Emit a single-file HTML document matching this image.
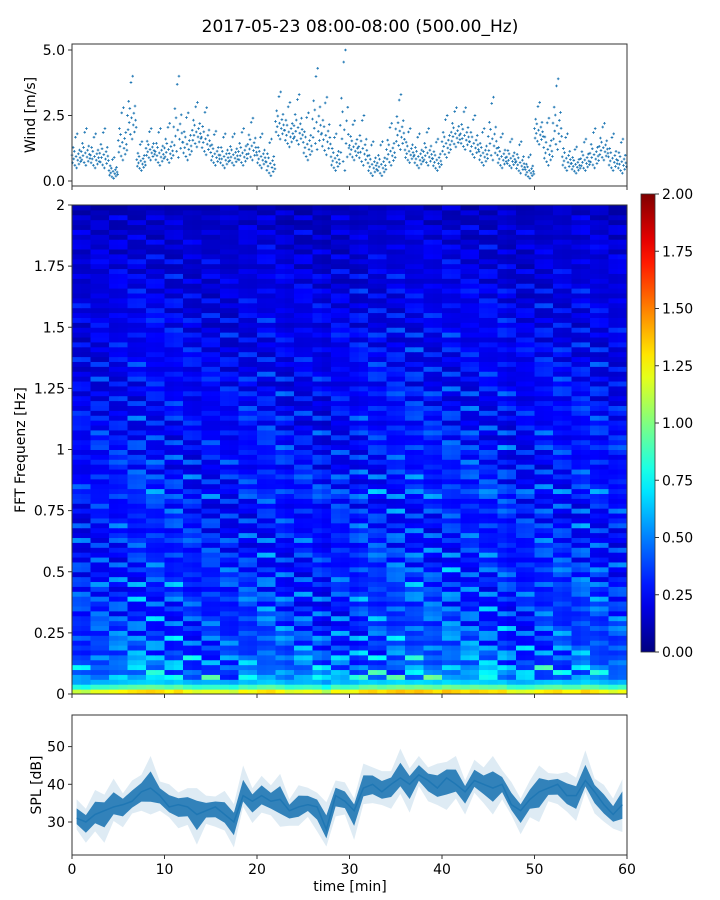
<!DOCTYPE html>
<html><head><meta charset="utf-8"><style>
body{margin:0;background:#fff;width:720px;height:900px;overflow:hidden}
svg{display:block;font-family:"DejaVu Sans","Liberation Sans",sans-serif}
</style></head><body>
<svg id="c" width="720" height="900" xmlns="http://www.w3.org/2000/svg">
<text x="360" y="32" text-anchor="middle" font-size="17" fill="#000">2017-05-23 08:00-08:00 (500.00_Hz)</text>
</svg>
<script>
const minutes = Array.from({length:60},(_,i)=>i);
const windLow = [0.5,0.6,0.5,0.5,0.1,0.8,1.6,0.4,0.8,0.6,0.7,0.9,0.8,1.3,1.0,0.6,0.5,0.6,0.6,0.8,0.5,0.2,1.6,1.3,1.4,0.8,1.2,1.0,0.4,0.4,0.8,0.6,0.2,0.2,0.6,1.2,0.7,0.5,0.6,0.4,0.9,1.3,1.2,0.9,0.6,0.8,0.5,0.5,0.3,0.1,1.4,0.6,1.2,0.4,0.3,0.4,0.5,0.8,0.4,0.3];
const windHigh = [1.8,2.0,1.8,2.0,0.9,2.8,4.0,1.5,2.0,2.0,2.2,4.0,2.6,3.0,2.8,1.9,1.8,1.8,2.0,2.4,1.8,1.6,3.4,3.0,3.3,2.6,4.3,3.2,1.8,5.0,2.3,2.5,1.5,1.5,2.2,3.3,2.0,1.8,2.0,1.6,2.5,2.8,2.8,2.5,2.0,3.2,1.8,1.6,1.5,1.0,3.0,2.4,3.9,1.8,1.3,1.6,2.0,2.2,1.8,1.6];
const splMean = [31,30,32,33,34,34.6,35.5,38,39,37,34,34.6,34,32,33,34,32,30,37,35.5,37,35.5,36,33,34,34.6,34,28,37,35.5,33,39,40,38,40,41.7,40,42.5,41,39,41.7,40,38,41,40,39,40,34.6,33,36,38,39,40,37,37,41,38,34.6,32,34.6];
const freqProfile = [1.2,0.85,0.6,0.55,0.48,0.5,0.42,0.46,0.38,0.42,0.36,0.4,0.35,0.38,0.33,0.37,0.32,0.36,0.31,0.37,0.34,0.3,0.38,0.32,0.3,0.35,0.31,0.29,0.33,0.3,0.28,0.33,0.3,0.27,0.32,0.29,0.26,0.31,0.27,0.28,0.33,0.35,0.3,0.27,0.32,0.28,0.25,0.3,0.27,0.26,0.31,0.27,0.24,0.29,0.26,0.23,0.28,0.25,0.27,0.24,0.22,0.27,0.25,0.21,0.26,0.24,0.22,0.25,0.23,0.21,0.24,0.22,0.2,0.24,0.22,0.19,0.23,0.21,0.19,0.22,0.2,0.18,0.21,0.19,0.17,0.2,0.18,0.16,0.19,0.17,0.15,0.18,0.16,0.14,0.17,0.15,0.13,0.15,0.12,0.11];
const timeFactor = [0.95,0.92,1.0,1.0,1.02,1.05,1.08,1.1,1.12,1.1,1.05,1.1,1.02,0.98,1.0,1.0,0.98,0.95,1.05,1.02,1.08,1.1,1.05,0.98,1.0,1.02,1.0,0.9,1.05,1.0,1.02,1.1,1.12,1.08,1.12,1.15,1.12,1.15,1.12,1.08,1.15,1.12,1.08,1.12,1.1,1.08,1.1,1.0,0.98,1.0,1.05,1.08,1.1,1.05,1.05,1.12,1.08,1.02,0.98,1.02];
const texture = [1.0,0.7,1.3,0.85,1.5,0.6,1.1,0.9,1.7,0.75,1.2,0.65,1.0,1.4,0.8,0.55,1.25,0.95,1.6,0.7,1.05,0.85,1.35,0.6,1.15,0.9,0.75,1.45,0.8,1.0,0.65,1.3,0.9,1.1,0.7,1.55,0.85];
const xTicks = [0,10,20,30,40,50,60];
const windTicks = [0,2.5,5];
const windTickLabels = ["0.0","2.5","5.0"];
const freqTicks = [0,0.25,0.5,0.75,1,1.25,1.5,1.75,2];
const freqTickLabels = ["0","0.25","0.5","0.75","1","1.25","1.5","1.75","2"];
const splTicks = [30,40,50];
const cbTicks = [0,0.25,0.5,0.75,1,1.25,1.5,1.75,2];
const cbTickLabels = ["0.00","0.25","0.50","0.75","1.00","1.25","1.50","1.75","2.00"];

const NS="http://www.w3.org/2000/svg", svg=document.getElementById('c');
function mk(tag,attrs,parent){const e=document.createElementNS(NS,tag);for(const k in attrs)e.setAttribute(k,attrs[k]);(parent||svg).appendChild(e);return e;}
const X0=72,X1=627;
const xs=t=>X0+(t/60)*(X1-X0);
const wy=v=>181-v*26.2;
const fy=f=>694-f*244.5;
const sy=d=>822-(d-30)*3.77;
const cy=v=>652-v*229;
function jet(v){const x=Math.max(0,Math.min(1,v/2));const c=a=>Math.round(255*Math.max(0,Math.min(1,1.5-Math.abs(4*x-a))));return `rgb(${c(3)},${c(2)},${c(1)})`;}

// Wind panel
const gw=mk('g',{});


let wp='';
minutes.forEach((m,i)=>{
  for(let k=0;k<16;k++){
    const frac=[0.5,0.2,0.8,0.35,0.65,0.1,0.9,0.45,0.0,1.0,0.3,0.55,0.15,0.7,0.4,0.25][k];
    const v=windLow[i]+(windHigh[i]-windLow[i])*(frac<0.9?frac*0.75:frac);
    const x=xs(m+k/16), y=wy(v);
    wp+=`M${x-1.3} ${y}h2.6M${x} ${y-1.3}v2.6`;
  }
});
const wpath=mk('path',{d:wp,stroke:'#1f77b4','stroke-width':0.9,fill:'none'},gw);


mk('rect',{x:X0,y:44,width:X1-X0,height:142,fill:'none',stroke:'#333','stroke-width':1},gw);
windTicks.forEach((v,i)=>{mk('line',{x1:X0-4,x2:X0,y1:wy(v),y2:wy(v),stroke:'#333'},gw);
 const t=mk('text',{x:X0-7,y:wy(v)+5,'text-anchor':'end','font-size':14},gw);t.textContent=windTickLabels[i];
 });
xTicks.forEach(v=>mk('line',{x1:xs(v),x2:xs(v),y1:186,y2:190,stroke:'#333'},gw));
const wl=mk('text',{x:0,y:0,transform:'translate(35,115) rotate(-90)','text-anchor':'middle','font-size':14},gw);wl.textContent='Wind [m/s]';


// Spectrogram
const gs=mk('g',{});


const df=2/freqProfile.length;
freqProfile.forEach((fv,r)=>{
  timeFactor.forEach((tv,c)=>{
    const tx=r<3?1:texture[(r*11+Math.floor(c/2)*7)%texture.length];
    const cell=mk('rect',{x:xs(c),y:fy((r+1)*df),width:xs(c+1)-xs(c)+0.5,height:fy(r*df)-fy((r+1)*df)+0.5,fill:jet(fv*tv*tx)},gs);
    
    
  });
});
mk('rect',{x:X0,y:205,width:X1-X0,height:489,fill:'none',stroke:'#333'},gs);
freqTicks.forEach((v,i)=>{mk('line',{x1:X0-4,x2:X0,y1:fy(v),y2:fy(v),stroke:'#333'},gs);
 const t=mk('text',{x:X0-7,y:fy(v)+5,'text-anchor':'end','font-size':14},gs);t.textContent=freqTickLabels[i];
 });
xTicks.forEach(v=>mk('line',{x1:xs(v),x2:xs(v),y1:694,y2:698,stroke:'#333'},gs));
const fl=mk('text',{x:0,y:0,transform:'translate(25,450) rotate(-90)','text-anchor':'middle','font-size':14},gs);fl.textContent='FFT Frequenz [Hz]';


// Colorbar
const defs=mk('defs',{});
const lg=mk('linearGradient',{id:'jetg',x1:0,y1:1,x2:0,y2:0},defs);
for(let i=0;i<=20;i++){mk('stop',{offset:i/20,'stop-color':jet(i/10)},lg);}
const gc=mk('g',{});


mk('rect',{x:641,y:194,width:14,height:458,fill:'url(#jetg)',stroke:'#333','stroke-width':0.8},gc);
cbTicks.forEach((v,i)=>{mk('line',{x1:655,x2:659,y1:cy(v),y2:cy(v),stroke:'#333'},gc);
 const t=mk('text',{x:662,y:cy(v)+5,'font-size':14},gc);t.textContent=cbTickLabels[i];
 });

// SPL
const gp=mk('g',{});


const cp=mk('clipPath',{id:'splclip'},defs);mk('rect',{x:X0,y:715,width:X1-X0,height:140},cp);
function band(off){let up='',dn='';splMean.forEach((v,i)=>{const x=xs(i+0.5);up+=(i?'L':'M')+x+' '+sy(v+off*texture[i%texture.length]);});
 for(let i=splMean.length-1;i>=0;i--)dn+='L'+xs(i+0.5)+' '+sy(splMean[i]-off*texture[(i+5)%texture.length]);return up+dn+'Z';}
const b1=mk('path',{d:band(5),fill:'#1f77b4','fill-opacity':0.15,'clip-path':'url(#splclip)'},gp);

const b2=mk('path',{d:band(2.6),fill:'#1f77b4','fill-opacity':0.9,'clip-path':'url(#splclip)'},gp);

let lp='';splMean.forEach((v,i)=>{lp+=(i?'L':'M')+xs(i+0.5)+' '+sy(v);});
const ln=mk('path',{d:lp,stroke:'#1f77b4','stroke-width':1.5,fill:'none'},gp);

mk('rect',{x:X0,y:715,width:X1-X0,height:140,fill:'none',stroke:'#333'},gp);
splTicks.forEach(v=>{mk('line',{x1:X0-4,x2:X0,y1:sy(v),y2:sy(v),stroke:'#333'},gp);
 const t=mk('text',{x:X0-7,y:sy(v)+5,'text-anchor':'end','font-size':14},gp);t.textContent=v;
 });
xTicks.forEach(v=>{mk('line',{x1:xs(v),x2:xs(v),y1:855,y2:859,stroke:'#333'},gp);
 const t=mk('text',{x:xs(v),y:874,'text-anchor':'middle','font-size':14},gp);t.textContent=v;
 });
const sl=mk('text',{x:0,y:0,transform:'translate(41,785) rotate(-90)','text-anchor':'middle','font-size':14},gp);sl.textContent='SPL [dB]';

const xl=mk('text',{x:350,y:891,'text-anchor':'middle','font-size':14},gp);xl.textContent='time [min]';

</script>
</body></html>
